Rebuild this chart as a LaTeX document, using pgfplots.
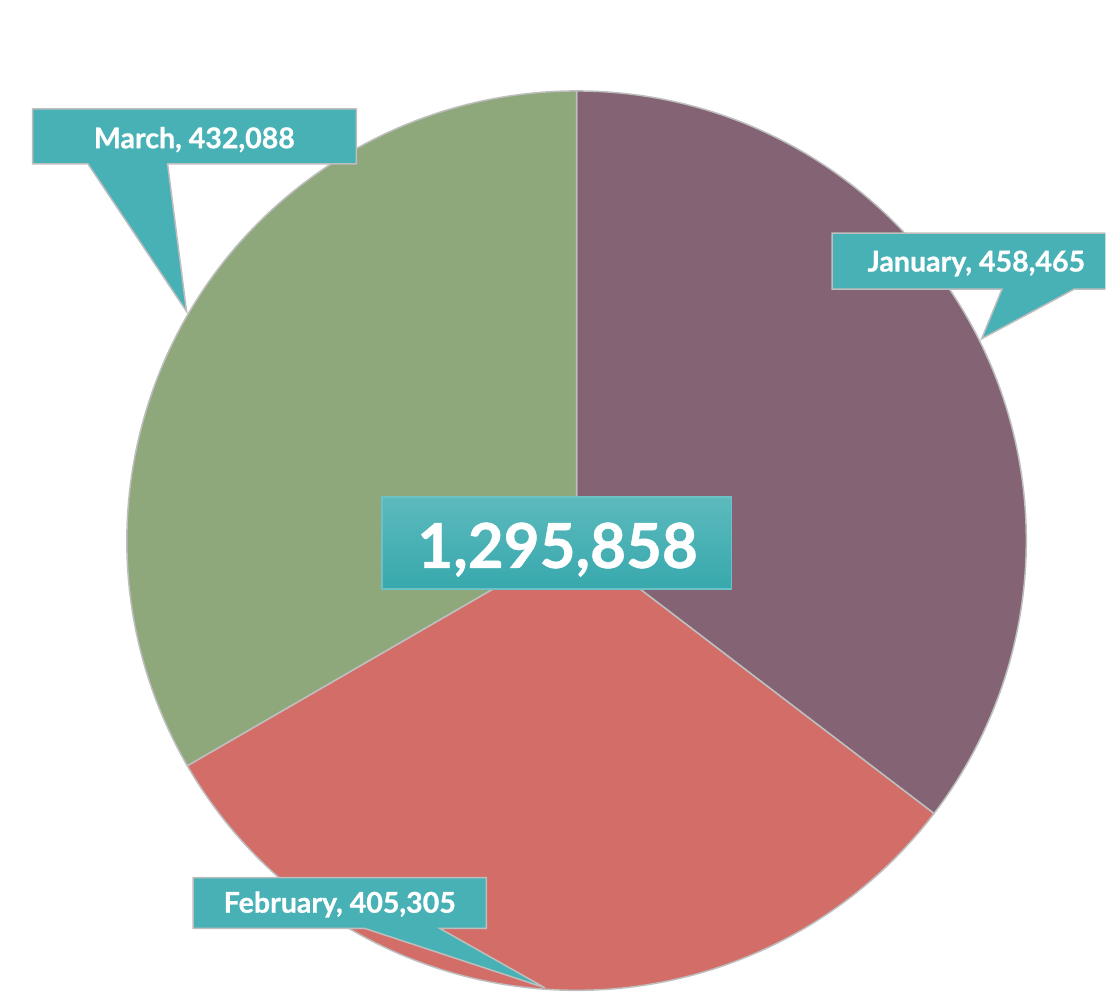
\documentclass[border=0pt]{standalone}
\usepackage{pgfplots}
\pgfplotsset{compat=1.18}
\usepackage{fontspec}
\setmainfont{Lato}[BoldFeatures={FakeBold=0.8}]

\definecolor{jan}{HTML}{836374}
\definecolor{feb}{HTML}{D36D68}
\definecolor{mar}{HTML}{8EA87C}
\definecolor{callout}{HTML}{47B1B5}
\definecolor{edge}{HTML}{BEBEBE}
\definecolor{totTop}{HTML}{5CBABD}
\definecolor{totMid}{HTML}{3FB7BE}
\definecolor{totBot}{HTML}{37A8AD}

% slice values
\def\vJan{458465}
\def\vFeb{405305}
\def\vMar{432088}
\edef\aJan{\fpeval{360*\vJan/(\vJan+\vFeb+\vMar)}}
\edef\aFeb{\fpeval{360*\vFeb/(\vJan+\vFeb+\vMar)}}
\edef\eJan{\fpeval{90-\aJan}}
\edef\eFeb{\fpeval{90-\aJan-\aFeb}}

\begin{document}
\begin{tikzpicture}
  \begin{axis}[
    hide axis, scale only axis,
    width=553pt, height=500.5pt,
    xmin=0, xmax=1106, ymin=0, ymax=1001,
    y dir=reverse, clip=false
  ]
    \path (axis cs:0,0) rectangle (axis cs:1106,1001);

    % pie slices, centre (577,541), radius 450px = 225pt
    \filldraw[fill=jan, draw=edge, line width=0.75pt, line join=round]
      (axis cs:577,541) -- ++(90:225pt) arc[start angle=90, end angle=\eJan, radius=225pt] -- cycle;
    \filldraw[fill=feb, draw=edge, line width=0.75pt, line join=round]
      (axis cs:577,541) -- ++(\eJan:225pt) arc[start angle=\eJan, end angle=\eFeb, radius=225pt] -- cycle;
    \filldraw[fill=mar, draw=edge, line width=0.75pt, line join=round]
      (axis cs:577,541) -- ++(\eFeb:225pt) arc[start angle=\eFeb, end angle=-270, radius=225pt] -- cycle;

    % callouts
    \filldraw[fill=callout, draw=edge, line width=0.75pt]
      (axis cs:32.7,109) -- (axis cs:356.7,109) -- (axis cs:356.7,164) -- (axis cs:167.7,164)
      -- (axis cs:186.7,311.7) -- (axis cs:88,164) -- (axis cs:32.7,164) -- cycle;
    \fill[callout]
      (axis cs:832.7,233.3) -- (axis cs:1106,233.3) -- (axis cs:1106,289.3) -- (axis cs:1075,289.3)
      -- (axis cs:982.3,339) -- (axis cs:1002.7,289.3) -- (axis cs:832.7,289.3) -- cycle;
    \draw[edge, line width=0.75pt]
      (axis cs:1106,233.3) -- (axis cs:832.7,233.3) -- (axis cs:832.7,289.3) -- (axis cs:1002.7,289.3)
      -- (axis cs:982.3,339) -- (axis cs:1075,289.3) -- (axis cs:1106,289.3);
    \filldraw[fill=callout, draw=edge, line width=0.75pt]
      (axis cs:193.3,878.3) -- (axis cs:486.7,878.3) -- (axis cs:486.7,929) -- (axis cs:440,929)
      -- (axis cs:545,988.3) -- (axis cs:365,929) -- (axis cs:193.3,929) -- cycle;

    \node[anchor=base, text=white, font=\fontsize{14.3}{17}\selectfont\bfseries]
      at (axis cs:194.5,148.3) {March, 432,088};
    \node[anchor=base, text=white, font=\fontsize{14.3}{17}\selectfont\bfseries]
      at (axis cs:977,271.7) {January, 458,465};
    \node[anchor=base, text=white, font=\fontsize{14.3}{17}\selectfont\bfseries]
      at (axis cs:340,913.3) {February, 405,305};

    % total box
    \shade[top color=totTop, middle color=totMid, bottom color=totBot]
      (axis cs:382.3,497.3) rectangle (axis cs:731.7,589.3);
    \draw[callout!80!white, line width=0.6pt]
      (axis cs:382.3,497.3) rectangle (axis cs:731.7,589.3);
    \node[anchor=base, text=white, font=\fontsize{31}{36}\selectfont\bfseries]
      at (axis cs:558,568.3) {1,295,858};
  \end{axis}
\end{tikzpicture}
\end{document}
